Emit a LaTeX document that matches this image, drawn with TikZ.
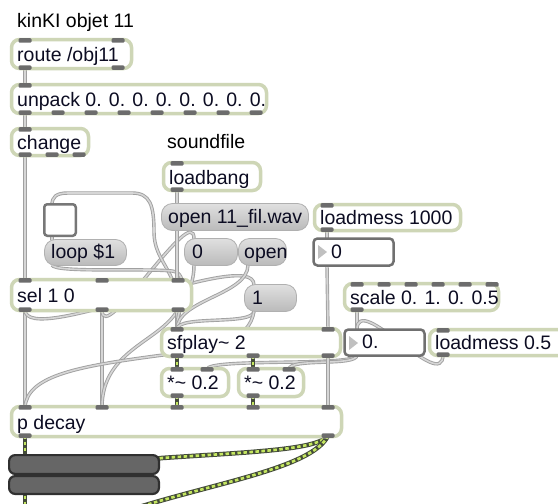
\documentclass[tikz,border=0pt]{standalone}
\usepackage{fontspec}
\setmainfont{Liberation Sans}
\pgfdeclarelayer{bg}
\pgfdeclarelayer{cords}
\pgfsetlayers{bg,cords,main}

\definecolor{objedge}{RGB}{206,214,182}
\definecolor{porttab}{RGB}{108,108,108}
\definecolor{msgtop}{RGB}{224,224,224}
\definecolor{msgbot}{RGB}{186,186,186}
\definecolor{msgedge}{RGB}{176,176,176}
\definecolor{txt}{RGB}{12,12,34}
\definecolor{cordedge}{RGB}{160,160,160}
\definecolor{cordfill}{RGB}{214,214,214}
\definecolor{sigdark}{RGB}{68,76,58}
\definecolor{siggreen}{RGB}{196,230,96}
\definecolor{numedge}{RGB}{112,112,112}
\definecolor{trigray}{RGB}{192,192,192}
\definecolor{bardark}{RGB}{48,48,48}
\definecolor{barfill}{RGB}{102,102,102}

\tikzset{
  objbox/.style={draw=objedge, line width=3.5pt, fill=white, rounded corners=8pt, inner sep=0pt},
  msgbox/.style={draw=msgedge, line width=0.8pt, top color=msgtop, bottom color=msgbot, rounded corners=11pt, inner sep=0pt},
  numbox/.style={draw=numedge, line width=2.5pt, fill=white, rounded corners=4pt, inner sep=0pt},
  port/.style={fill=porttab, rounded corners=1.2pt, minimum width=13pt, minimum height=4.5pt, inner sep=0pt},
  lbl/.style={text=txt, inner sep=0pt, anchor=base west},
  ctl/.style={draw=cordedge, line width=0.9pt, double=cordfill, double distance=1.6pt},
  sig/.style={preaction={draw=sigdark, line width=4.6pt, solid}, draw=siggreen, line width=2.6pt, dash pattern=on 3.5pt off 2.5pt},
  barbox/.style={draw=bardark, line width=2.2pt, fill=barfill, rounded corners=6pt, inner sep=0pt},
}

% box: name, style, x1, y1, x2, y2, text, text indent, baseline shift
\newcommand\mxbox[9]{%
  \node[#2, minimum width={#5-#3-3}, minimum height={#6-#4-3}] (#1) at ({(#3+#5)/2},{(#4+#6)/2}) {};
  \node[lbl] (#1-t) at ({#3+#8},{(#4+#6)/2+#9}) {#7};}
% inlet and outlet tabs of an object box
\newcommand\mxinlets[3]{\foreach \px [count=\k] in {#3}{\node[port, anchor=north] (#1-i\k) at (\px,#2) {};}}
\newcommand\mxoutlets[3]{\foreach \px [count=\k] in {#3}{\node[port, anchor=south] (#1-o\k) at (\px,#2) {};}}

\begin{document}
\begin{tikzpicture}[x=1pt, y=-1pt, font=\fontsize{19.5}{23}\selectfont]
\useasboundingbox (0,0) rectangle (558,504);
\begin{pgfonlayer}{bg}
  \fill[white] (0,0) rectangle (558,504);
\end{pgfonlayer}

% comments
\node[lbl, text=black] (title) at (17,27) {kinKI objet 11};
\node[lbl, text=black] (sfnote) at (167,148) {soundfile};

% boxes
\mxbox{route}{objbox}{10}{38}{133}{70}{route /obj11}{7}{7.5}
\mxbox{unpack}{objbox}{10}{83}{268}{115}{unpack 0. 0. 0. 0. 0. 0. 0. 0.}{7}{7.5}
\mxbox{change}{objbox}{10}{127}{90}{157}{change}{7}{7.5}
\mxbox{loadbang}{objbox}{162}{161}{262}{192}{loadbang}{7}{7.5}
\mxbox{openf}{msgbox}{160}{202}{310}{232}{open 11\_fil.wav}{8}{6}
\mxbox{lmk}{objbox}{313}{203}{462}{232}{loadmess 1000}{7}{7}
\mxbox{loop}{msgbox}{43}{238}{128}{267}{loop \$1}{8}{6}
\mxbox{zero}{msgbox}{183}{237}{239}{267}{0}{9}{6}
\mxbox{openm}{msgbox}{237}{237}{288}{267}{open}{7}{6}
\mxbox{numa}{numbox}{312}{237}{395}{267}{0}{19}{6}
\mxbox{sel}{objbox}{10}{278}{193}{312}{sel 1 0}{7}{7}
\mxbox{one}{msgbox}{243}{283}{298}{313}{1}{9}{6}
\mxbox{scale}{objbox}{343}{282}{500}{312}{scale 0. 1. 0. 0.5}{7}{7}
\mxbox{sfplay}{objbox}{160}{327}{342}{358}{sfplay\textasciitilde{} 2}{7}{7}
\mxbox{numb}{numbox}{343}{328}{426}{357}{0.}{19}{6}
\mxbox{lmh}{objbox}{428}{328}{575}{357}{loadmess 0.5}{7}{7}
\mxbox{mulL}{objbox}{160}{367}{230}{398}{*\textasciitilde{} 0.2}{7}{7}
\mxbox{mulR}{objbox}{237}{367}{305}{398}{*\textasciitilde{} 0.2}{7}{7}
\mxbox{pdecay}{objbox}{10}{405}{343}{438}{p decay}{7}{7.5}

% toggle
\node[numbox, draw=numedge!95!white, rounded corners=3pt, minimum width=31.5pt, minimum height=31.5pt] (tog) at (60,220) {};

% number box arrows
\fill[trigray] (318,245) -- (318,259) -- (327,252) -- cycle;
\fill[trigray] (349,336) -- (349,350) -- (358,343) -- cycle;

% meters
\node[barbox, minimum width=149.8pt, minimum height=18.8pt] (gainA) at (84,464.5) {};
\node[barbox, minimum width=149.8pt, minimum height=17.8pt] (gainB) at (84,485) {};

% object tabs
\mxinlets{route}{38}{25,118}        \mxoutlets{route}{70}{25,118}
\mxinlets{unpack}{83}{25}           \mxoutlets{unpack}{115}{25,58,91,124,157,190,223,256}
\mxinlets{change}{127}{25}          \mxoutlets{change}{157}{25,52,79}
\mxinlets{loadbang}{161}{177}       \mxoutlets{loadbang}{192}{177}
\mxinlets{lmk}{203}{327}            \mxoutlets{lmk}{232}{327}
\mxinlets{sel}{278}{25,102,178}     \mxoutlets{sel}{312}{25,102,178}
\mxinlets{scale}{282}{357,384,411,438,465,492} \mxoutlets{scale}{312}{357}
\mxinlets{sfplay}{327}{177,328}     \mxoutlets{sfplay}{358}{177,253,328}
\mxinlets{lmh}{328}{443}            \mxoutlets{lmh}{357}{443}
\mxinlets{mulL}{367}{177,207}       \mxoutlets{mulL}{398}{177}
\mxinlets{mulR}{367}{253,289}       \mxoutlets{mulR}{398}{253}
\mxinlets{pdecay}{405}{25,102,177,253,328} \mxoutlets{pdecay}{438}{25,328}

% ports of messages, number boxes and toggle
\coordinate (tog-i1) at (52,205);   \coordinate (tog-o1) at (52,235);
\coordinate (openf-i1) at (177,204); \coordinate (openf-o1) at (177,230);
\coordinate (loop-i1) at (52,240);  \coordinate (loop-o1) at (52,265);
\coordinate (zero-i1) at (194,239); \coordinate (zero-o1) at (194,265);
\coordinate (openm-o1) at (248,265);
\coordinate (one-i1) at (254,285);  \coordinate (one-o1) at (254,311);
\coordinate (numa-i1) at (327,239); \coordinate (numa-o1) at (327,265);
\coordinate (numb-i1) at (357,330); \coordinate (numb-o1) at (357,355);
% destinations below the view
\coordinate (dacL) at (25,520);
\coordinate (gainIn) at (130,462);
\coordinate (dacR) at (115,515);

\begin{pgfonlayer}{cords}
  % control cords
  \draw[ctl] (route-o1.center) -- (unpack-i1.center);
  \draw[ctl] (unpack-o1.center) -- (change-i1.center);
  \draw[ctl] (change-o1.center) -- (sel-i1.center);
  \draw[ctl] (loadbang-o1.center) -- (openf-i1);
  \draw[ctl] (tog-o1) -- (loop-i1);
  \draw[ctl] (lmk-o1.center) -- (numa-i1);
  \draw[ctl] (numa-o1) -- (sfplay-i2.center);
  \draw[ctl] (scale-o1.center) -- (numb-i1);
  \draw[ctl] (lmh-o1.center) .. controls +(0,40) and +(0,-40) .. (numb-i1);
  \draw[ctl] (numb-o1) .. controls +(0,12) and +(0,-12) .. (mulL-i2.center);
  \draw[ctl] (numb-o1) .. controls +(0,12) and +(0,-12) .. (mulR-i2.center);
  \draw[ctl] (sfplay-o3.center) -- (pdecay-i5.center);
  \draw[ctl] (sel-o1.center) -- (pdecay-i1.center);
  \draw[ctl] (sel-o2.center) -- (pdecay-i2.center);
  \draw[ctl] (sel-o3.center) .. controls (160,342) and (102,350) .. (pdecay-i2.center);
  \draw[ctl] (sel-o1.center) .. controls +(0,40) and +(0,-40) .. (one-i1);
  \draw[ctl] (sel-o2.center) .. controls +(0,40) and +(0,-40) .. (zero-i1);
  \draw[ctl] (sel-o3.center) .. controls (178,270) and (154,262) .. (154,232)
             .. controls (154,205) and (150,193) .. (132,193) -- (68,193)
             .. controls (56,193) and (52,197) .. (tog-i1);
  \draw[ctl] (loop-o1) .. controls (55,273) and (140,268) .. (172,271)
             .. controls (190,273) and (180,300) .. (sfplay-i1.center);
  \draw[ctl] (openf-o1) -- (sfplay-i1.center);
  \draw[ctl] (zero-o1) .. controls +(0,30) and +(0,-30) .. (sfplay-i1.center);
  \draw[ctl] (openm-o1) .. controls +(0,30) and +(0,-30) .. (sfplay-i1.center);
  \draw[ctl] (one-o1) .. controls +(0,15) and +(0,-15) .. (sfplay-i1.center);
  \draw[ctl] (one-o1) .. controls (250,340) and (215,350) .. (163,355)
             .. controls (80,366) and (27,375) .. (pdecay-i1.center);
  % signal cords
  \draw[sig] (sfplay-o1.center) -- (mulL-i1.center);
  \draw[sig] (sfplay-o2.center) -- (mulR-i1.center);
  \draw[sig] (mulL-o1.center) -- (pdecay-i3.center);
  \draw[sig] (mulR-o1.center) -- (pdecay-i4.center);
  \draw[sig] (pdecay-o1.center) -- (dacL);
  \draw[sig] (pdecay-o2.center) .. controls (318,450) and (250,452) .. (162,458) -- (gainIn);
  \draw[sig] (pdecay-o2.center) .. controls (312,470) and (200,485) .. (dacR);
\end{pgfonlayer}
\end{tikzpicture}
\end{document}
